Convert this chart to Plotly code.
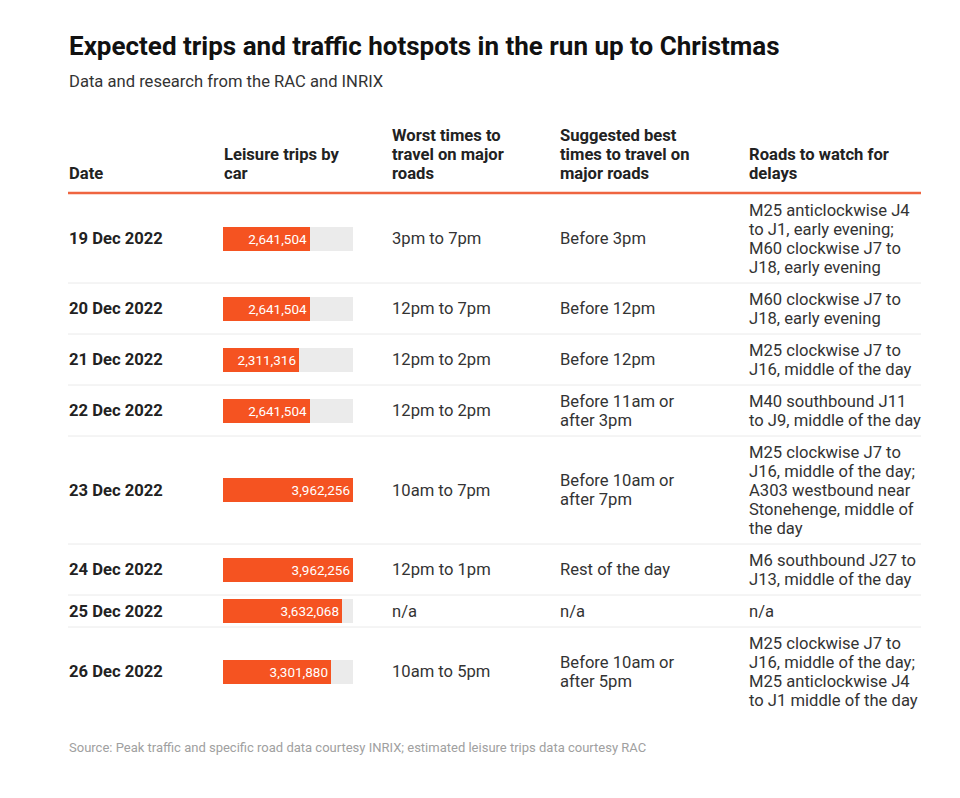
import plotly.graph_objects as go

# ---------------- data ----------------
dates = ["19 Dec 2022", "20 Dec 2022", "21 Dec 2022", "22 Dec 2022",
         "23 Dec 2022", "24 Dec 2022", "25 Dec 2022", "26 Dec 2022"]
leisure_trips = [2641504, 2641504, 2311316, 2641504, 3962256, 3962256, 3632068, 3301880]
worst_times = ["3pm to 7pm", "12pm to 7pm", "12pm to 2pm", "12pm to 2pm",
               "10am to 7pm", "12pm to 1pm", "n/a", "10am to 5pm"]
best_times = ["Before 3pm", "Before 12pm", "Before 12pm", "Before 11am or<br>after 3pm",
              "Before 10am or<br>after 7pm", "Rest of the day", "n/a", "Before 10am or<br>after 5pm"]
roads = [
    "M25 anticlockwise J4<br>to J1, early evening;<br>M60 clockwise J7 to<br>J18, early evening",
    "M60 clockwise J7 to<br>J18, early evening",
    "M25 clockwise J7 to<br>J16, middle of the day",
    "M40 southbound J11<br>to J9, middle of the day",
    "M25 clockwise J7 to<br>J16, middle of the day;<br>A303 westbound near<br>Stonehenge, middle of<br>the day",
    "M6 southbound J27 to<br>J13, middle of the day",
    "n/a",
    "M25 clockwise J7 to<br>J16, middle of the day;<br>M25 anticlockwise J4<br>to J1 middle of the day",
]
headers = ["Date", "Leisure trips by<br>car", "Worst times to<br>travel on major<br>roads",
           "Suggested best<br>times to travel on<br>major roads", "Roads to watch for<br>delays"]
title = "Expected trips and traffic hotspots in the run up to Christmas"
subtitle = "Data and research from the RAC and INRIX"
source = "Source: Peak traffic and specific road data courtesy INRIX; estimated leisure trips data courtesy RAC"

# ---------------- layout ----------------
W, H = 960, 798
FONT = "Roboto, Arial, sans-serif"
TEXT = "#333333"
DARK = "#222222"
ORANGE = "#F55321"
BODY = 16.6
col_x = [68, 223, 391, 559, 748]
table_right = 921
line_h = 19
pad = 13
header_line_y = 193
bar_w_px = 130

def px(x):
    return x / W

def py(y):
    return 1 - y / H

def split(s):
    return s.split("<br>")

# row geometry (pixel units, derived from text line counts)
row_tops, row_centers = [], []
y = header_line_y + 1
for i in range(len(dates)):
    n = max(len(split(s)) for s in (dates[i], worst_times[i], best_times[i], roads[i]))
    h = n * line_h + pad
    row_tops.append(y)
    row_centers.append(y + h / 2)
    y += h

vmax = max(leisure_trips)

fig = go.Figure()
fig.add_trace(go.Bar(
    x=[vmax] * len(dates), y=row_centers, orientation="h", width=24,
    marker=dict(color="#EBEBEB", line=dict(width=0)), hoverinfo="skip", showlegend=False,
))
fig.add_trace(go.Bar(
    x=leisure_trips, y=row_centers, orientation="h", width=24,
    marker=dict(color=ORANGE, line=dict(width=0)),
    text=[f"{v:,}" for v in leisure_trips], textposition="inside", insidetextanchor="end",
    constraintext="none",
    insidetextfont=dict(family=FONT, size=13.5, color="white"), showlegend=False,
    cliponaxis=False,
))

annotations = []
def add_line(x, yy, text, size, color, bold=False, yref="y"):
    annotations.append(dict(
        x=px(x), xref="paper", y=yy, yref=yref, xanchor="left", yanchor="middle",
        text=f"<b>{text}</b>" if bold else text, showarrow=False, align="left",
        font=dict(family=FONT, size=size, color=color), borderpad=0,
    ))

def add_block(x, center, text, size=BODY, color=TEXT, bold=False):
    lines = split(text)
    top = center - (len(lines) - 1) * line_h / 2
    for k, ln in enumerate(lines):
        add_line(x, top + k * line_h, ln, size, color, bold)

add_line(68, py(46), title, 26, "#111111", bold=True, yref="paper")
add_line(68, py(82), subtitle, BODY, TEXT, yref="paper")
add_line(68, py(747), source, 13, "#A0A0A0", yref="paper")

for j, htxt in enumerate(headers):
    n = len(split(htxt))
    center = 173 - (n - 1) * line_h / 2
    add_block(col_x[j], center, htxt, color=DARK, bold=True)

for i in range(len(dates)):
    c = row_centers[i]
    add_block(col_x[0], c, dates[i], color=DARK, bold=True)
    add_block(col_x[2], c, worst_times[i])
    add_block(col_x[3], c, best_times[i])
    add_block(col_x[4], c, roads[i])

shapes = [dict(type="line", xref="paper", yref="y", x0=px(68), x1=px(table_right),
               y0=header_line_y, y1=header_line_y, line=dict(color="#EF6540", width=2.5))]
for t in row_tops[1:]:
    shapes.append(dict(type="line", xref="paper", yref="y", x0=px(68), x1=px(table_right),
                       y0=t, y1=t, line=dict(color="#EAEAEA", width=1)))

fig.update_layout(
    width=W, height=H, margin=dict(l=0, r=0, t=0, b=0),
    paper_bgcolor="white", plot_bgcolor="rgba(0,0,0,0)",
    barmode="overlay", bargap=0,
    xaxis=dict(domain=[px(col_x[1]), px(col_x[1] + bar_w_px)], range=[0, vmax],
               visible=False, fixedrange=True),
    yaxis=dict(domain=[0, 1], range=[H, 0], visible=False, fixedrange=True),
    annotations=annotations, shapes=shapes,
    font=dict(family=FONT),
)

fig.write_html("out.html", config={"displayModeBar": False},
               post_script="document.body.style.margin='0';document.body.style.overflow='hidden';")
